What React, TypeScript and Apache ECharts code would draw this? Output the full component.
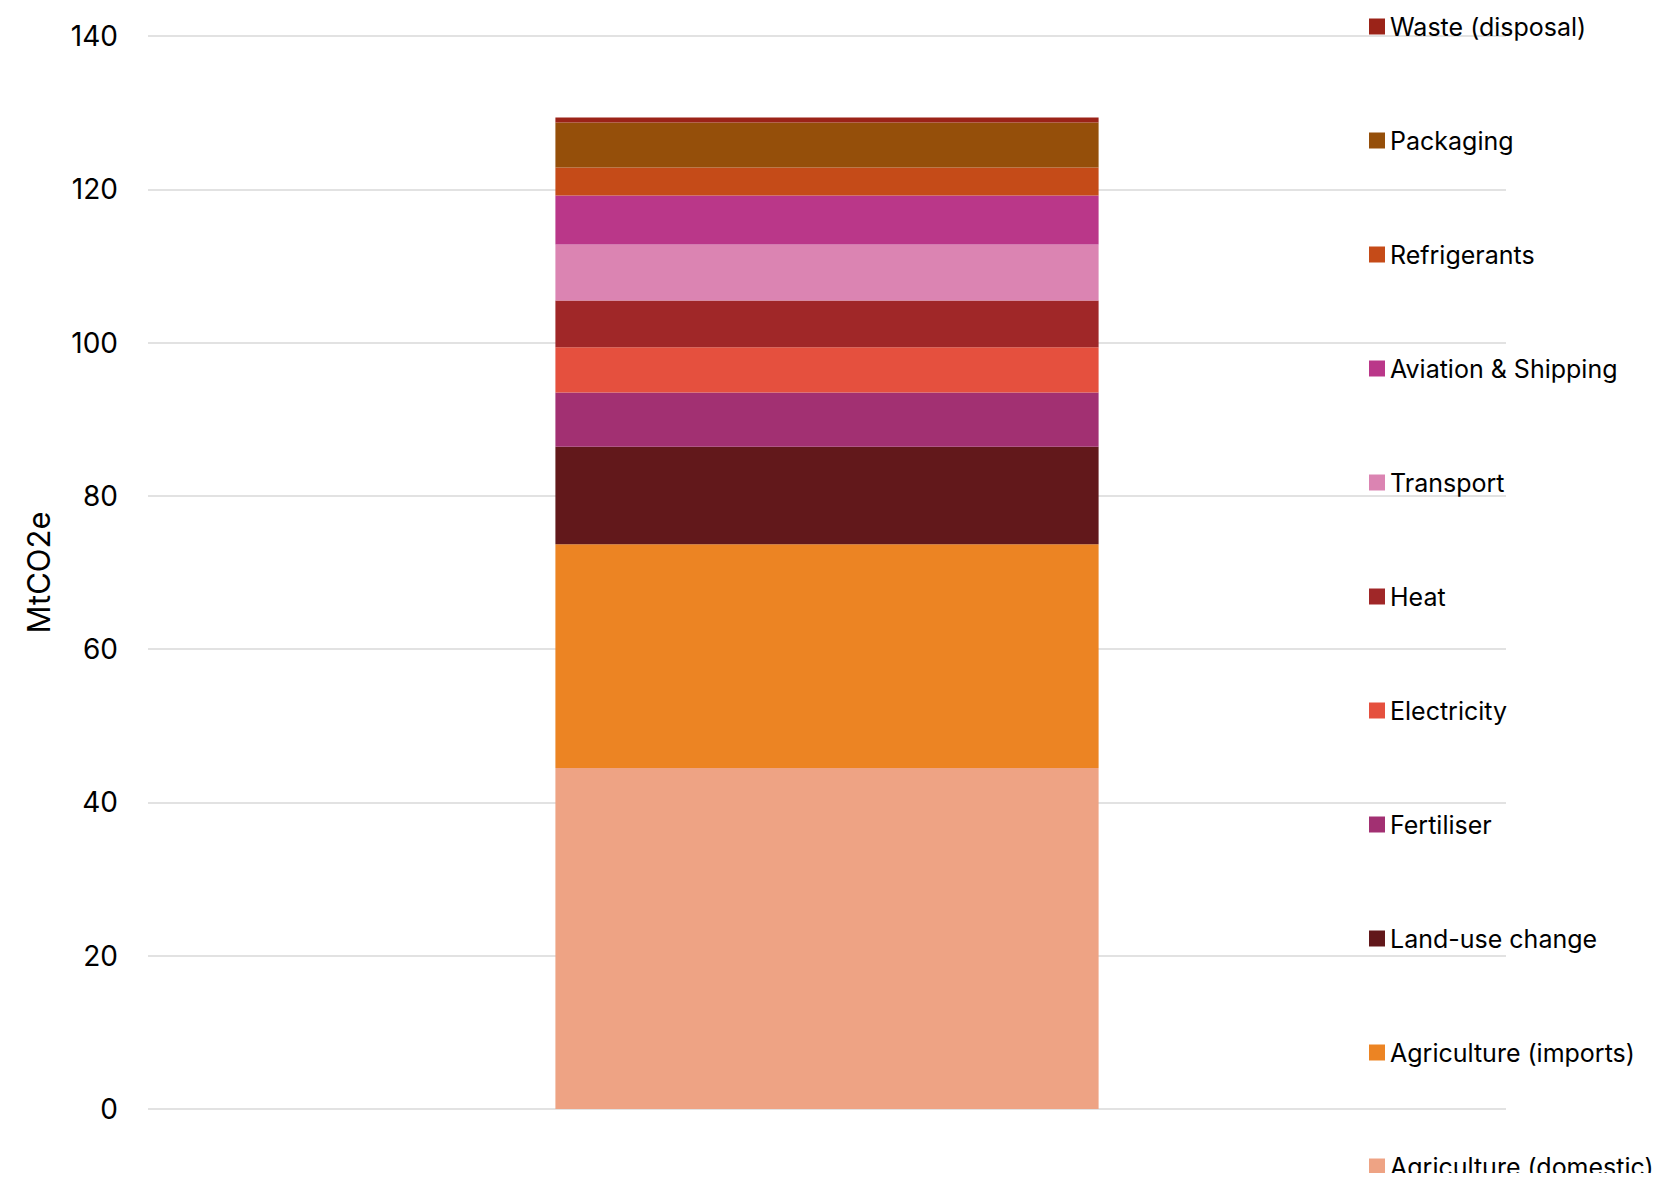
import React, { useEffect, useRef } from "react";
import * as echarts from "echarts";

const categories = [""];
const seriesNames = [
  "Agriculture (domestic)",
  "Agriculture (imports)",
  "Land-use change",
  "Fertiliser",
  "Electricity",
  "Heat",
  "Transport",
  "Aviation & Shipping",
  "Refrigerants",
  "Packaging",
  "Waste (disposal)",
];
const seriesValues = [44.5, 29.2, 12.7, 7.1, 5.9, 6.1, 7.3, 6.4, 3.65, 5.85, 0.65];
const seriesColors = [
  "#EEA384",
  "#EC8423",
  "#62181B",
  "#A23072",
  "#E5503E",
  "#A02728",
  "#DB84B2",
  "#BA3789",
  "#C54B18",
  "#954F0A",
  "#9B2318",
];
const yTicks = { min: 0, max: 140, interval: 20 };
const yAxisTitle = "MtCO2e";

const FONT = "Inter, 'Noto Sans', sans-serif";

export default function App() {
  const ref = useRef<HTMLDivElement>(null);
  useEffect(() => {
    if (!ref.current) return;
    const chart = echarts.init(ref.current, undefined, { renderer: "svg" });
    chart.setOption({
      animation: false,
      backgroundColor: "#ffffff",
      textStyle: { fontFamily: FONT },
      grid: { left: 148, right: 154, top: 36, bottom: 72, containLabel: false },
      legend: {
        orient: "vertical",
        left: 1369,
        top: 14,
        height: 1400,
        padding: 0,
        itemWidth: 16,
        itemHeight: 16,
        itemGap: 89,
        icon: "rect",
        data: [...seriesNames].reverse(),
        textStyle: { fontSize: 25, lineHeight: 24, color: "#000000", fontFamily: FONT },
        selectedMode: false,
      },
      xAxis: {
        type: "category",
        data: categories,
        axisLine: { show: false },
        axisTick: { show: false },
        axisLabel: { show: false },
      },
      yAxis: {
        type: "value",
        min: yTicks.min,
        max: yTicks.max,
        interval: yTicks.interval,
        name: yAxisTitle,
        nameLocation: "middle",
        nameGap: 94,
        nameTextStyle: { fontSize: 31, color: "#000000", fontFamily: FONT },
        axisLine: { show: false },
        axisTick: { show: false },
        axisLabel: { fontSize: 28, color: "#000000", margin: 30, fontFamily: FONT },
        splitLine: { lineStyle: { color: "#D9D9D9", width: 1.5 } },
      },
      series: seriesNames.map((name, i) => ({
        name,
        type: "bar",
        stack: "total",
        barWidth: "40%",
        data: [seriesValues[i]],
        itemStyle: { color: seriesColors[i] },
      })),
    });
    return () => chart.dispose();
  }, []);
  return <div ref={ref} style={{ width: 1660, height: 1181, margin: -8 }} />;
}
